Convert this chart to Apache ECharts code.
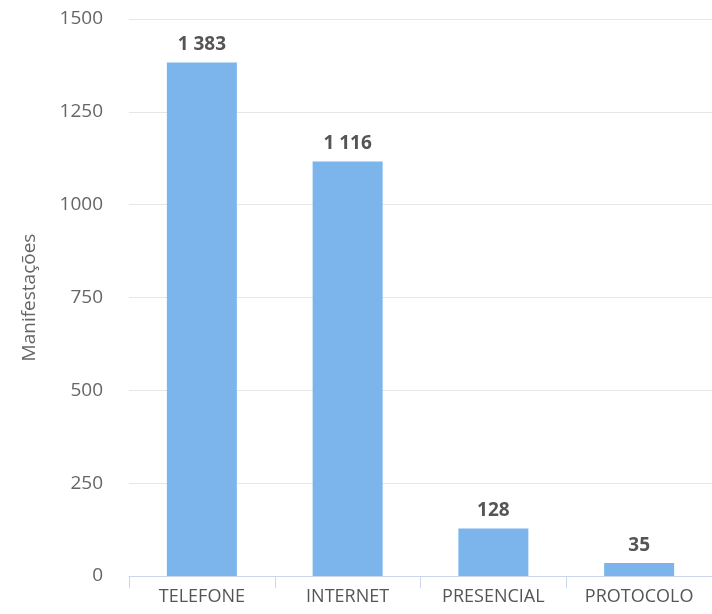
<!DOCTYPE html>
<html>
<head>
<meta charset="utf-8">
<script src="https://cdn.jsdelivr.net/npm/echarts@6/dist/echarts.min.js"></script>
<style>
  html, body { margin: 0; padding: 0; background: #fff; }
  #chart { width: 712px; height: 614px; }
</style>
</head>
<body>
<div id="chart"></div>
<script>
// categorias e valores
const categorias = ['TELEFONE', 'INTERNET', 'PRESENCIAL', 'PROTOCOLO'];
const manifestacoes = [1383, 1116, 128, 35];
const yTicks = [0, 250, 500, 750, 1000, 1250, 1500];

// separador de milhar com espaço, igual ao original
function fmt(v) {
  return String(v).replace(/\B(?=(\d{3})+(?!\d))/g, ' ');
}

let myChart = echarts.init(document.getElementById('chart'));
let option = {
  backgroundColor: '#fff',
  textStyle: { fontFamily: '"Open Sans", "DejaVu Sans", sans-serif' },
  grid: {
    left: 129,
    right: -13,
    top: 19,
    bottom: 38,
    containLabel: false
  },
  xAxis: {
    type: 'category',
    data: categorias,
    axisLine: { lineStyle: { color: '#ccd6eb', width: 1 } },
    axisTick: { show: true, length: 12, lineStyle: { color: '#ccd6eb' } },
    axisLabel: { color: '#555', fontSize: 18, margin: 12, interval: 0, hideOverlap: false }
  },
  yAxis: {
    type: 'value',
    min: yTicks[0],
    max: yTicks[yTicks.length - 1],
    interval: 250,
    name: 'Manifestações',
    nameLocation: 'middle',
    nameGap: 90,
    nameTextStyle: { color: '#666', fontSize: 19 },
    axisLine: { show: false },
    axisTick: { show: false },
    axisLabel: { color: '#666', fontSize: 19, margin: 26, formatter: v => String(v) },
    splitLine: { lineStyle: { color: '#e6e6e6' } }
  },
  series: [{
    type: 'bar',
    data: manifestacoes,
    barWidth: 70,
    itemStyle: { color: '#7cb5ec' },
    label: {
      show: true,
      position: 'top',
      distance: 8,
      color: '#555',
      fontSize: 19,
      fontWeight: 'bold',
      formatter: p => fmt(p.value)
    }
  }]
};
myChart.setOption(option);
</script>
</body>
</html>
